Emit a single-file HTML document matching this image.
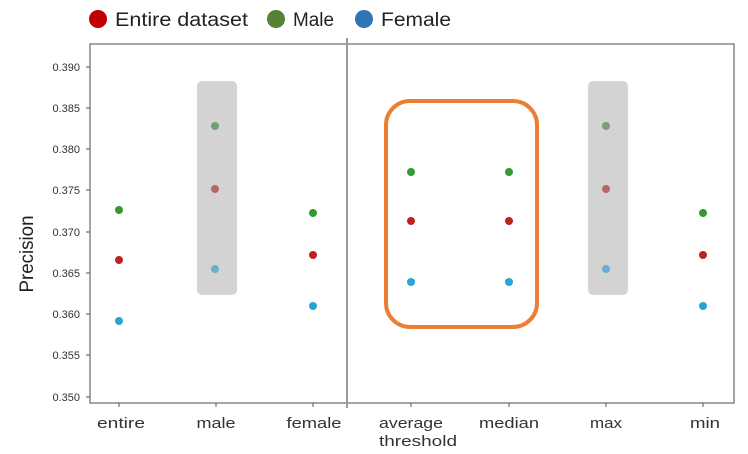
<!DOCTYPE html>
<html><head><meta charset="utf-8"><style>
body{margin:0;background:#fff}
svg{display:block;font-family:"Liberation Sans","DejaVu Sans",sans-serif}
</style></head><body>
<svg width="748" height="454" viewBox="0 0 748 454">
<rect width="748" height="454" fill="#fff"/>
<circle cx="98" cy="19" r="9" fill="#c00000"/>
<text x="115" y="26" font-size="19" fill="#222" textLength="133" lengthAdjust="spacingAndGlyphs">Entire dataset</text>
<circle cx="276" cy="19" r="9" fill="#548235"/>
<text x="293" y="26" font-size="19" fill="#222" textLength="41" lengthAdjust="spacingAndGlyphs">Male</text>
<circle cx="364" cy="19" r="9" fill="#2e75b6"/>
<text x="381" y="26" font-size="19" fill="#222" textLength="70" lengthAdjust="spacingAndGlyphs">Female</text>
<rect x="197" y="81" width="40" height="214" rx="5" fill="#d3d3d3"/>
<rect x="588" y="81" width="40" height="214" rx="5" fill="#d3d3d3"/>
<rect x="90" y="44" width="644" height="359" fill="none" stroke="#777" stroke-width="1.3"/>
<line x1="347" y1="38" x2="347" y2="408" stroke="#999" stroke-width="2"/>
<g font-size="11" fill="#333" text-anchor="end">
<text x="80" y="71">0.390</text><line x1="86" y1="67" x2="90" y2="67" stroke="#555"/>
<text x="80" y="112">0.385</text><line x1="86" y1="108" x2="90" y2="108" stroke="#555"/>
<text x="80" y="153">0.380</text><line x1="86" y1="149" x2="90" y2="149" stroke="#555"/>
<text x="80" y="194">0.375</text><line x1="86" y1="190" x2="90" y2="190" stroke="#555"/>
<text x="80" y="236">0.370</text><line x1="86" y1="232" x2="90" y2="232" stroke="#555"/>
<text x="80" y="277">0.365</text><line x1="86" y1="273" x2="90" y2="273" stroke="#555"/>
<text x="80" y="318">0.360</text><line x1="86" y1="314" x2="90" y2="314" stroke="#555"/>
<text x="80" y="359">0.355</text><line x1="86" y1="355" x2="90" y2="355" stroke="#555"/>
<text x="80" y="401">0.350</text><line x1="86" y1="397" x2="90" y2="397" stroke="#555"/>
</g>
<text transform="translate(33,254) rotate(-90)" font-size="19" fill="#222" text-anchor="middle" textLength="77" lengthAdjust="spacingAndGlyphs">Precision</text>
<g stroke="#555"><line x1="119" y1="403" x2="119" y2="407"/><line x1="216" y1="403" x2="216" y2="407"/><line x1="313" y1="403" x2="313" y2="407"/><line x1="411" y1="403" x2="411" y2="407"/><line x1="509" y1="403" x2="509" y2="407"/><line x1="606" y1="403" x2="606" y2="407"/><line x1="703" y1="403" x2="703" y2="407"/></g>
<g font-size="15" fill="#333" text-anchor="middle">
<text x="121" y="428" textLength="48" lengthAdjust="spacingAndGlyphs">entire</text>
<text x="216" y="428" textLength="39" lengthAdjust="spacingAndGlyphs">male</text>
<text x="314" y="428" textLength="55" lengthAdjust="spacingAndGlyphs">female</text>
<text x="411" y="428" textLength="64" lengthAdjust="spacingAndGlyphs">average</text>
<text x="418" y="446" textLength="78" lengthAdjust="spacingAndGlyphs">threshold</text>
<text x="509" y="428" textLength="60" lengthAdjust="spacingAndGlyphs">median</text>
<text x="606" y="428" textLength="32" lengthAdjust="spacingAndGlyphs">max</text>
<text x="705" y="428" textLength="30" lengthAdjust="spacingAndGlyphs">min</text>
</g>
<rect x="386" y="101" width="151" height="226" rx="24" fill="none" stroke="#ed7d31" stroke-width="4"/>
<g>
<circle cx="119" cy="210" r="4" fill="#339933"/><circle cx="119" cy="260" r="4" fill="#bb2222"/><circle cx="119" cy="321" r="4" fill="#2aa3d6"/>
<circle cx="215" cy="126" r="4" fill="#6fa07a"/><circle cx="215" cy="189" r="4" fill="#bb6666"/><circle cx="215" cy="269" r="4" fill="#6aaecc"/>
<circle cx="313" cy="213" r="4" fill="#339933"/><circle cx="313" cy="255" r="4" fill="#bb2222"/><circle cx="313" cy="306" r="4" fill="#2aa3d6"/>
<circle cx="411" cy="172" r="4" fill="#339933"/><circle cx="411" cy="221" r="4" fill="#bb2222"/><circle cx="411" cy="282" r="4" fill="#2aa3d6"/>
<circle cx="509" cy="172" r="4" fill="#339933"/><circle cx="509" cy="221" r="4" fill="#bb2222"/><circle cx="509" cy="282" r="4" fill="#2aa3d6"/>
<circle cx="606" cy="126" r="4" fill="#6fa07a"/><circle cx="606" cy="189" r="4" fill="#bb6666"/><circle cx="606" cy="269" r="4" fill="#6aaecc"/>
<circle cx="703" cy="213" r="4" fill="#339933"/><circle cx="703" cy="255" r="4" fill="#bb2222"/><circle cx="703" cy="306" r="4" fill="#2aa3d6"/>
</g>
</svg>
</body></html>
